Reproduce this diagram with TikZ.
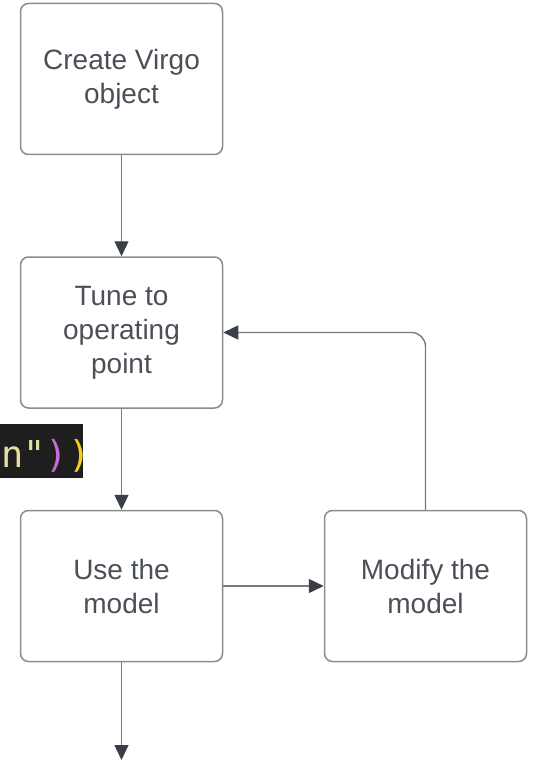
\documentclass[tikz,border=0pt]{standalone}
\usepackage{fontspec}
\newfontfamily\labelfont{Liberation Sans}
\newfontfamily\codefont{DejaVu Sans Mono}
\usetikzlibrary{arrows.meta,positioning}
\definecolor{boxline}{HTML}{8C8C8C}
\definecolor{flowline}{HTML}{7A7A7A}
\definecolor{tipdark}{HTML}{3A3F47}
\definecolor{labeltext}{HTML}{4B5058}
\definecolor{codebg}{HTML}{1E1E1E}
\definecolor{codetext}{HTML}{E2DFA6}
\definecolor{codepurple}{HTML}{C86BD9}
\definecolor{codeyellow}{HTML}{F5CC1A}
\tikzset{
    stage/.style={draw=boxline, line width=1.5pt, rounded corners=8pt,
        minimum width=202pt, minimum height=151pt, align=center,
        text=labeltext, font=\labelfont\fontsize{28}{34}\selectfont},
    flow/.style={draw=flowline, line width=1.4pt,
        -{Triangle[length=15pt,width=14pt,color=tipdark]}},
}
\begin{document}
\begin{tikzpicture}[x=1pt,y=-1pt]
\useasboundingbox (0,0) rectangle (533,762);
% code snippet at the side
\fill[codebg] (0,424) rectangle (83,478);
\node[anchor=base west, inner sep=0pt, font=\codefont\fontsize{37}{37}\selectfont] (snip) at (1,467)
    {\color{codetext}n"\color{codepurple})\color{codeyellow})};
% the four stages
\node[stage] (create) at (121.5,79) {Create Virgo\\object};
\node[stage] (tune) at (121.5,332.5) {Tune to\\operating\\point};
\node[stage] (use) at (121.5,586) {Use the\\model};
\node[stage] (modify) at (425.5,586) {Modify the\\model};
\coordinate (out) at (121.5,760);
% connectors
\draw[flow] (create) -- (tune);
\draw[flow] (tune) -- (use);
\draw[flow] (use) -- (modify);
\draw[flow, rounded corners=14pt] (modify.north) |- (tune.east);
\draw[flow] (use) -- (out);
\end{tikzpicture}
\end{document}
